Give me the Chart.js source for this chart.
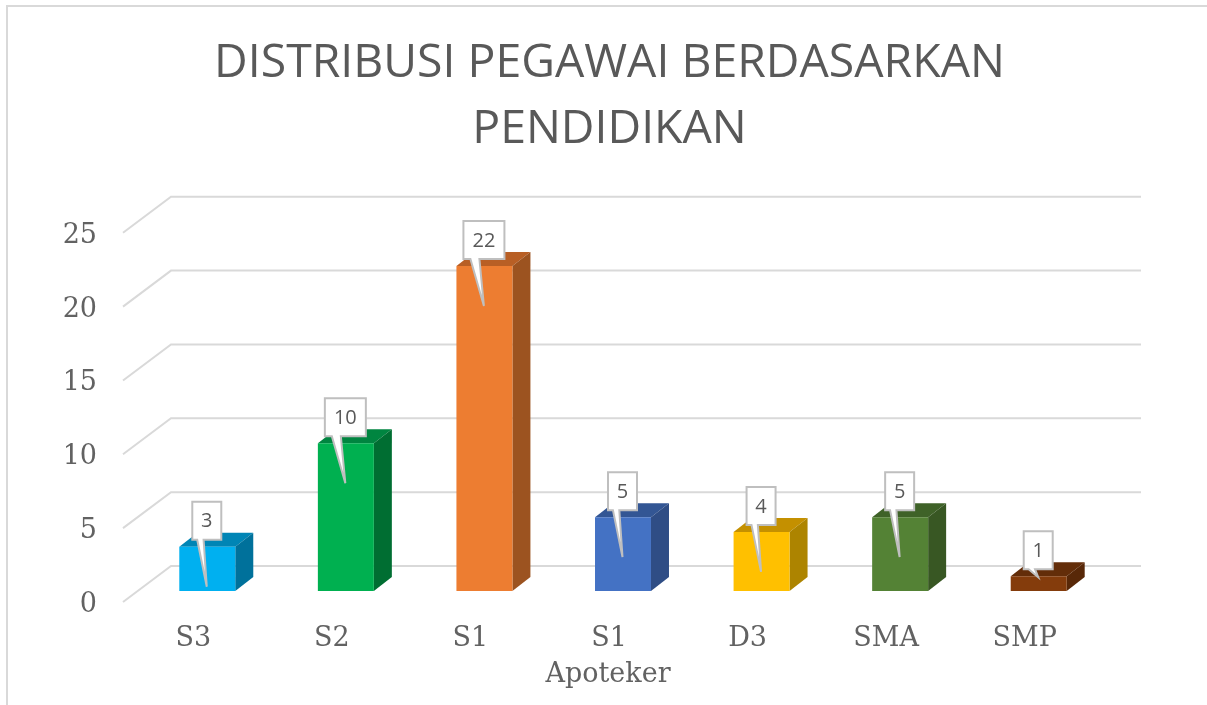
<!DOCTYPE html>
<html>
<head>
<meta charset="utf-8">
<script src="https://cdn.jsdelivr.net/npm/chart.js@4"></script>
<style>
    html, body { margin: 0; background: #fff; }
    canvas { display: block; }
</style>
</head>
<body>
<canvas id="chart" width="1207" height="705"></canvas>
<script>
const categories = ["S3", "S2", "S1", "S1", "D3", "SMA", "SMP"];
const values = [3, 10, 22, 5, 4, 5, 1];
const frontColors = ["#00B0F0", "#00B050", "#ED7D31", "#4472C4", "#FFC000", "#548235", "#843C0C"];
const topColors = ["#0085B5", "#008540", "#B85F25", "#335694", "#C49000", "#3F6228", "#632D09"];
const sideColors = ["#00719B", "#006E32", "#9C5320", "#2F4D85", "#AD8400", "#385723", "#582808"];
const titleLines = ["DISTRIBUSI PEGAWAI BERDASARKAN", "PENDIDIKAN"];
const xTitle = "Apoteker";

const TEXT = "#595959";
const AXIS_TEXT = "#626262";
const GRID = "#D9D9D9";
const SERIF = "'DejaVu Serif', serif";
const SANS = "'Open Sans', sans-serif";

// Draws what Chart.js has no element for: wall lines, box faces, callouts, frame
const box3d = {
    id: "box3d",
    afterLayout(chart) {
        // axis title sits left of the plot centre; ticks are already configured by now
        chart.scales.x.left -= 30;
    },
    beforeDraw(chart) {
        const { ctx } = chart;
        ctx.save();
        ctx.strokeStyle = GRID;
        ctx.lineWidth = 2;
        ctx.beginPath();
        ctx.moveTo(7, 705);
        ctx.lineTo(7, 6);
        ctx.lineTo(1207, 6);
        ctx.stroke();
        ctx.restore();
    },
    beforeDatasetsDraw(chart) {
        const { ctx, scales: { y } } = chart;
        ctx.save();
        ctx.strokeStyle = GRID;
        ctx.lineWidth = 2;
        y.ticks.forEach(t => {
            const py = y.getPixelForValue(t.value);
            ctx.beginPath();
            ctx.moveTo(123, py + 11);
            ctx.lineTo(171, py - 25);
            ctx.lineTo(1141, py - 25);
            ctx.stroke();
        });
        const dx = 18, dy = 14;
        chart.getDatasetMeta(0).data.forEach((bar, i) => {
            const l = bar.x - bar.width / 2, r = bar.x + bar.width / 2;
            ctx.fillStyle = topColors[i];
            ctx.beginPath();
            ctx.moveTo(l, bar.y);
            ctx.lineTo(l + dx, bar.y - dy);
            ctx.lineTo(r + dx, bar.y - dy);
            ctx.lineTo(r, bar.y);
            ctx.closePath();
            ctx.fill();
            ctx.fillStyle = sideColors[i];
            ctx.beginPath();
            ctx.moveTo(r, bar.y);
            ctx.lineTo(r + dx, bar.y - dy);
            ctx.lineTo(r + dx, bar.base - dy);
            ctx.lineTo(r, bar.base);
            ctx.closePath();
            ctx.fill();
        });
        ctx.restore();
    },
    afterDatasetsDraw(chart) {
        const { ctx } = chart;
        ctx.save();
        ctx.font = "20px " + SANS;
        ctx.textAlign = "center";
        ctx.textBaseline = "middle";
        chart.getDatasetMeta(0).data.forEach((bar, i) => {
            const label = String(values[i]);
            const w = label.length > 1 ? 41 : 29;
            const cx = bar.x - 0.5;
            const top = bar.y - 45, bottom = bar.y - 7;
            const tipY = bar.y + (bar.base - bar.y > 20 ? 40 : 1);
            const left = cx - w / 2, right = cx + w / 2;
            ctx.beginPath();
            ctx.moveTo(left, top);
            ctx.lineTo(right, top);
            ctx.lineTo(right, bottom);
            ctx.lineTo(cx - 0.11 * w, bottom);
            ctx.lineTo(cx, tipY);
            ctx.lineTo(cx - 0.33 * w, bottom);
            ctx.lineTo(left, bottom);
            ctx.closePath();
            ctx.fillStyle = "#fff";
            ctx.fill();
            ctx.strokeStyle = "#BFBFBF";
            ctx.lineWidth = 2;
            ctx.stroke();
            ctx.fillStyle = TEXT;
            ctx.fillText(label, cx, (top + bottom) / 2 + 1);
        });
        ctx.restore();
    }
};

new Chart(document.getElementById("chart"), {
    type: "bar",
    plugins: [box3d],
    data: {
        labels: categories,
        datasets: [{
            data: values,
            backgroundColor: frontColors,
            categoryPercentage: 1,
            barPercentage: 0.404
        }]
    },
    options: {
        responsive: false,
        animation: false,
        layout: { padding: { left: 12, top: 31, bottom: 14 } },
        plugins: {
            legend: { display: false },
            tooltip: { enabled: false },
            title: {
                display: true,
                text: titleLines,
                color: TEXT,
                font: { family: SANS, size: 46.4, weight: "normal", lineHeight: 1.42 },
                padding: { top: 0, bottom: 59 }
            }
        },
        scales: {
            x: {
                afterFit(s) { s.height = 100; },
                grid: { display: false },
                border: { display: false },
                ticks: {
                    color: AXIS_TEXT,
                    font: { family: SERIF, size: 27 },
                    labelOffset: -14,
                    padding: 24,
                    maxRotation: 0
                },
                title: {
                    display: true,
                    text: xTitle,
                    color: AXIS_TEXT,
                    font: { family: SERIF, size: 27 },
                    padding: { top: 0, bottom: 0 }
                }
            },
            y: {
                min: 0,
                max: 25,
                afterFit(s) { s.width = 126; },
                grid: { display: false, drawTicks: false },
                border: { display: false },
                ticks: {
                    stepSize: 5,
                    color: AXIS_TEXT,
                    font: { family: SERIF, size: 27 },
                    labelOffset: 14,
                    padding: 41
                }
            },
            // empty axis, only holds the plot's right edge while the title stays centred on the frame
            yRight: {
                position: "right",
                afterFit(s) { s.width = 99; },
                grid: { display: false, drawTicks: false },
                border: { display: false },
                ticks: { display: false }
            }
        }
    }
});
</script>
</body>
</html>
